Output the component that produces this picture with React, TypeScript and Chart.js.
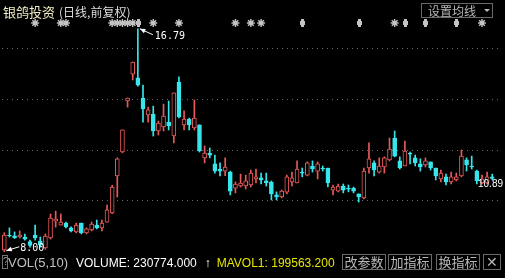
import React, { useEffect, useRef } from "react";
import { Chart, registerables } from "chart.js";

Chart.register(...registerables);

// ---------- data ----------
const opens = [
  8.07, 8.65, 8.63, 8.58, 8.58, 8.4, 8.66, 8.42, 8.15, 8.54,
  9.2, 9.05, 9.13, 8.94, 8.78, 9.13, 8.74, 8.86, 9.05, 8.94,
  9.17, 9.53, 10.99, 11.93, 13.94, 15.0, 14.85, 14.06, 13.39, 13.43,
  12.76, 12.92, 13.11, 12.56, 14.69, 13.0, 13.23, 12.88, 13.0, 11.7,
  11.89, 11.46, 11.26, 11.18, 11.14, 10.51, 10.59, 10.59, 10.63, 10.87,
  10.91, 10.79, 10.75, 10.24, 10.16, 10.35, 10.75, 10.71, 11.14, 11.02,
  11.38, 11.18, 11.3, 11.3, 10.43, 10.39, 10.59, 10.51, 10.51, 10.28,
  10.12, 11.3, 11.5, 11.14, 11.34, 11.62, 12.48, 11.58, 11.38, 11.89,
  11.7, 11.46, 11.42, 11.54, 11.3, 10.87, 10.95, 10.75, 10.83, 10.99,
  11.62, 11.38, 11.18, 10.71, 10.71, 10.95,
];
const highs = [
  8.75, 8.94, 8.78, 8.82, 8.7, 8.46, 9.05, 8.58, 8.7, 9.49,
  9.6, 9.49, 9.17, 8.98, 9.13, 9.13, 8.94, 9.17, 9.25, 9.25,
  9.84, 10.62, 11.7, 12.8, 14.06, 15.48, 16.79, 14.57, 13.7, 13.74,
  13.15, 13.82, 13.94, 14.26, 14.89, 13.55, 13.27, 13.98, 13.0, 12.17,
  12.09, 11.81, 11.5, 11.7, 11.18, 10.75, 11.06, 11.02, 11.22, 11.26,
  11.1, 11.1, 10.79, 10.36, 10.43, 11.02, 11.14, 11.58, 11.3, 11.54,
  11.58, 11.54, 11.38, 11.3, 10.63, 10.67, 10.67, 10.63, 10.55, 10.28,
  11.3, 12.29, 11.58, 11.7, 11.74, 12.48, 12.76, 11.74, 12.36, 11.93,
  11.81, 11.66, 11.7, 11.54, 11.3, 11.22, 11.06, 11.14, 11.1, 12.01,
  11.7, 11.77, 11.22, 11.02, 11.14, 11.06,
];
const lows = [
  8.0, 8.58, 8.52, 8.54, 8.46, 8.18, 8.46, 8.18, 8.1, 8.5,
  8.97, 9.05, 8.94, 8.78, 8.74, 8.7, 8.7, 8.82, 8.9, 8.82,
  9.17, 9.5, 10.16, 11.9, 13.7, 14.77, 14.53, 13.11, 13.11, 12.56,
  12.6, 12.76, 12.8, 12.29, 13.27, 12.8, 12.8, 12.8, 11.93, 11.5,
  11.7, 11.1, 10.99, 11.0, 10.24, 10.32, 10.55, 10.47, 10.55, 10.71,
  10.67, 10.59, 10.04, 10.04, 10.12, 10.28, 10.59, 10.71, 10.95, 10.99,
  11.14, 10.87, 11.18, 10.55, 10.24, 10.36, 10.32, 10.36, 10.32, 9.96,
  10.08, 11.1, 10.99, 11.1, 11.1, 11.58, 11.74, 11.26, 11.38, 11.46,
  11.38, 11.18, 11.34, 11.22, 10.83, 10.75, 10.63, 10.67, 10.79, 10.95,
  11.18, 11.26, 10.67, 10.67, 10.67, 10.83,
];
const closes = [
  8.66, 8.62, 8.55, 8.66, 8.5, 8.25, 8.54, 8.27, 8.62, 9.33,
  9.29, 9.17, 8.98, 8.82, 9.05, 8.74, 8.9, 9.09, 8.94, 9.13,
  9.65, 10.55, 11.66, 12.8, 14.06, 15.48, 14.57, 13.63, 13.59, 12.76,
  13.07, 13.35, 12.96, 14.26, 13.31, 13.23, 13.0, 13.27, 11.97, 11.89,
  11.81, 11.18, 11.18, 11.34, 10.39, 10.67, 10.71, 10.79, 11.1, 10.95,
  10.83, 10.71, 10.28, 10.16, 10.39, 10.95, 10.91, 11.26, 11.1, 11.5,
  11.26, 11.46, 11.26, 10.71, 10.55, 10.59, 10.43, 10.47, 10.39, 10.16,
  11.18, 11.66, 11.22, 11.38, 11.7, 12.05, 11.77, 11.3, 11.97, 11.85,
  11.5, 11.34, 11.58, 11.3, 10.99, 11.1, 10.75, 10.95, 10.95, 11.77,
  11.42, 11.34, 10.79, 10.87, 10.95, 10.89,
];
const gridPrices = [10, 12, 14, 16];
const starMarkers = [6, 11, 12, 21, 22, 23, 24, 25, 29, 34, 45, 48, 50, 76, 93];
const flagMarkers = [26, 58, 69, 78, 82, 88];
const stockName = "银鸽投资";
const periodText = "(日线,前复权)";
const maButtonText = "设置均线";
const volName = "VOL(5,10)";
const volumeText = "VOLUME: 230774.000";
const mavol1Text = "MAVOL1: 199563.200";
const footerButtons = ["改参数", "加指标", "换指标"];

// ---------- style ----------
const UP = "#e85a5a";
const DOWN = "#36e6ec";
const GRID = "#6a6a6a";
const MARK = "#c4c4c4";
const MARKER_Y = 23;

function drawStar(ctx: CanvasRenderingContext2D, x: number, y: number) {
  ctx.lineWidth = 1.4;
  for (let k = 0; k < 4; k++) {
    const a = (k * Math.PI) / 4;
    ctx.beginPath();
    ctx.moveTo(x - 4 * Math.cos(a), y - 4 * Math.sin(a));
    ctx.lineTo(x + 4 * Math.cos(a), y + 4 * Math.sin(a));
    ctx.stroke();
  }
  ctx.beginPath();
  ctx.arc(x, y, 2.3, 0, Math.PI * 2);
  ctx.fill();
}

function drawFlag(ctx: CanvasRenderingContext2D, x: number, y: number) {
  ctx.fillRect(Math.round(x) - 1, y - 4, 3, 8);
  ctx.fillRect(Math.round(x) - 2, y - 2, 5, 4);
}

function drawArrow(ctx: CanvasRenderingContext2D, x1: number, y1: number, x2: number, y2: number) {
  ctx.beginPath();
  ctx.moveTo(x1, y1);
  ctx.lineTo(x2, y2);
  ctx.stroke();
  const ang = Math.atan2(y2 - y1, x2 - x1);
  const L = 6;
  const W = 0.4;
  ctx.beginPath();
  ctx.moveTo(x1, y1);
  ctx.lineTo(x1 + L * Math.cos(ang - W), y1 + L * Math.sin(ang - W));
  ctx.lineTo(x1 + L * Math.cos(ang + W), y1 + L * Math.sin(ang + W));
  ctx.closePath();
  ctx.fill();
}

const overlayPlugin = {
  id: "overlay",
  afterDatasetsDraw(chart: any) {
    const ctx: CanvasRenderingContext2D = chart.ctx;
    const xs = chart.scales.x;
    const ys = chart.scales.y;
    ctx.save();
    ctx.fillStyle = MARK;
    ctx.strokeStyle = MARK;
    starMarkers.forEach((i) => drawStar(ctx, xs.getPixelForValue(i), MARKER_Y));
    flagMarkers.forEach((i) => drawFlag(ctx, xs.getPixelForValue(i), MARKER_Y));

    ctx.fillStyle = "#ffffff";
    ctx.strokeStyle = "#ffffff";
    ctx.lineWidth = 1;
    ctx.font = '10px "DejaVu Sans Mono"';
    ctx.textBaseline = "alphabetic";
    // highest
    const maxH = Math.max(...highs);
    const hi = highs.indexOf(maxH);
    const hx = xs.getPixelForValue(hi);
    const hy = ys.getPixelForValue(maxH);
    drawArrow(ctx, hx + 2, hy, hx + 15, hy + 6);
    ctx.textAlign = "left";
    ctx.fillText(maxH.toFixed(2), hx + 17, hy + 10);
    // lowest
    const minL = Math.min(...lows);
    const lo = lows.indexOf(minL);
    const lx = xs.getPixelForValue(lo);
    const ly = ys.getPixelForValue(minL);
    drawArrow(ctx, lx + 2, ly - 1, lx + 15, ly - 5);
    ctx.fillText(minL.toFixed(2), lx + 16, ly - 1);
    // last close
    const last = closes[closes.length - 1];
    const cy = ys.getPixelForValue(last);
    ctx.font = '10px "Liberation Sans"';
    ctx.textAlign = "right";
    ctx.fillText(last.toFixed(2), chart.width - 2, cy + 9);
    ctx.restore();
  },
};

export default function App() {
  const ref = useRef<HTMLCanvasElement | null>(null);

  useEffect(() => {
    if (!ref.current) return;
    const idx = opens.map((_, i) => i);
    const up = idx.map((i) => closes[i] >= opens[i]);
    const chart = new Chart(ref.current, {
      type: "bar",
      data: {
        datasets: [
          {
            label: "body",
            data: idx.map((i) => ({ x: i, y: [opens[i], closes[i]] })) as any,
            backgroundColor: idx.map((i) => (up[i] ? "#000000" : DOWN)),
            borderColor: idx.map((i) => (up[i] ? UP : DOWN)),
            borderWidth: 1,
            borderSkipped: false,
            barThickness: 4,
            grouped: false,
            order: 0,
          } as any,
          {
            label: "wick",
            data: idx.map((i) => ({ x: i, y: [lows[i], highs[i]] })) as any,
            backgroundColor: idx.map((i) => (up[i] ? UP : DOWN)),
            borderWidth: 0,
            barThickness: 1,
            grouped: false,
            order: 1,
          } as any,
        ],
      },
      options: {
        animation: false,
        responsive: false,
        maintainAspectRatio: false,
        layout: { padding: { left: 2, right: 3, top: 20, bottom: 25 } },
        plugins: { legend: { display: false }, tooltip: { enabled: false } },
        scales: {
          x: { type: "linear", display: false, offset: false, min: -0.45, max: 96.9 },
          y: {
            type: "linear",
            min: 7.95,
            max: 17.134,
            display: true,
            ticks: { display: false },
            grid: { color: GRID, drawTicks: false, lineWidth: 1 },
            border: { display: false, dash: [1, 4] },
            afterBuildTicks: (s: any) => {
              s.ticks = gridPrices.map((v) => ({ value: v }));
            },
          },
        },
      } as any,
      plugins: [overlayPlugin],
    });
    return () => chart.destroy();
  }, []);

  const cjk = '"Noto Sans CJK SC", sans-serif';
  const latin = '"Liberation Sans", Arial, sans-serif';
  const btn: React.CSSProperties = {
    position: "absolute",
    top: 254,
    height: 14,
    border: "1px solid #6a6a6a",
    background: "#000",
    color: "#b8b8b8",
    fontFamily: cjk,
    fontSize: 13,
    lineHeight: "14px",
    display: "flex",
    alignItems: "center",
    justifyContent: "center",
    boxSizing: "content-box",
  };
  const btnLefts = [342, 388, 436];
  const btnWidths = [42, 42, 42];

  return (
    <div
      style={{
        position: "fixed",
        left: 0,
        top: 0,
        width: 505,
        height: 278,
        background: "#000",
        overflow: "hidden",
      }}
    >
      <canvas ref={ref} width={505} height={278} style={{ position: "absolute", left: 0, top: 0 }} />
      <div
        style={{
          position: "absolute",
          left: 3,
          top: 2,
          lineHeight: 1,
          whiteSpace: "nowrap",
          fontFamily: cjk,
        }}
      >
        <span style={{ color: "#f2eec4", fontSize: 13 }}>{stockName}</span>
        <span style={{ color: "#dcdcdc", fontSize: 12, marginLeft: 4 }}>{periodText}</span>
      </div>
      <div
        style={{
          position: "absolute",
          left: 421,
          top: 3,
          width: 70,
          height: 13,
          border: "1px solid #6a6a6a",
          color: "#b8b8b8",
          fontFamily: cjk,
          fontSize: 12,
          lineHeight: "13px",
          whiteSpace: "nowrap",
        }}
      >
        <span style={{ position: "absolute", left: 6, top: 0 }}>{maButtonText}</span>
        <span
          style={{
            position: "absolute",
            left: 62,
            top: 5,
            width: 0,
            height: 0,
            borderLeft: "3px solid transparent",
            borderRight: "3px solid transparent",
            borderTop: "3px solid #b8b8b8",
          }}
        />
      </div>
      {/* footer */}
      <div
        style={{
          position: "absolute",
          left: 2,
          top: 255,
          width: 4,
          height: 12,
          border: "1px solid #777",
          color: "#999",
          fontFamily: latin,
          fontSize: 10,
          lineHeight: "12px",
          textAlign: "center",
          overflow: "hidden",
        }}
      >
        ?
      </div>
      <div
        style={{
          position: "absolute",
          left: 8,
          top: 256,
          color: "#c0c0c0",
          fontFamily: latin,
          fontSize: 13,
          lineHeight: "14px",
          whiteSpace: "nowrap",
        }}
      >
        {volName}
      </div>
      <div
        style={{
          position: "absolute",
          left: 76,
          top: 256,
          color: "#ffffff",
          fontFamily: latin,
          fontSize: 12,
          lineHeight: "14px",
          whiteSpace: "nowrap",
        }}
      >
        {volumeText}
        <span style={{ marginLeft: 8 }}>↑</span>
        <span style={{ color: "#e6e600", marginLeft: 6 }}>{mavol1Text}</span>
      </div>
      {footerButtons.map((t, k) => (
        <div key={t} style={{ ...btn, left: btnLefts[k], width: btnWidths[k] }}>
          {t}
        </div>
      ))}
      <div style={{ ...btn, left: 483, width: 16, fontFamily: latin, fontSize: 14 }}>✕</div>
    </div>
  );
}
